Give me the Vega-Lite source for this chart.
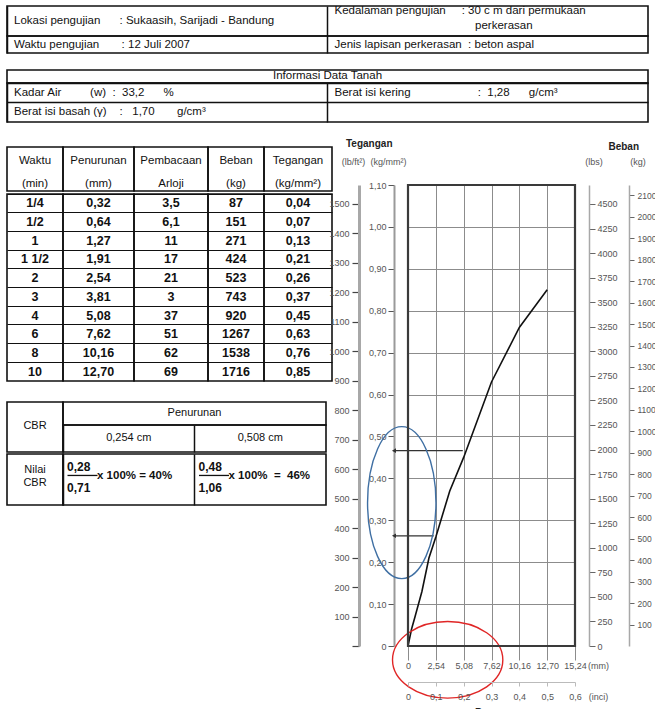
{
  "$schema": "https://vega.github.io/schema/vega-lite/v6.json",
  "padding": {"left": 6, "top": 3, "right": 0, "bottom": 0},
  "bounds": "flush",
  "spacing": 141,
  "config": {
    "view": {"stroke": "#111", "strokeWidth": 1.6},
    "font": "Liberation Sans, Arial, sans-serif",
    "text": {"font": "Liberation Sans, Arial, sans-serif", "fontSize": 11.5, "color": "#111"},
    "axis": {"labelFont": "Liberation Sans, Arial, sans-serif", "titleFont": "Liberation Sans, Arial, sans-serif", "labelFlush": false, "labelOverlap": false},
    "locale": {"number": {"decimal": ",", "thousands": ".", "grouping": [3], "currency": ["", ""]}},
    "concat": {"spacing": 0}
  },
  "datasets": {
    "uji": [
      {"waktu": "1/4", "penurunan": 0.32, "arloji": 3.5, "beban": 87, "tegangan": 0.04},
      {"waktu": "1/2", "penurunan": 0.64, "arloji": 6.1, "beban": 151, "tegangan": 0.07},
      {"waktu": "1", "penurunan": 1.27, "arloji": 11, "beban": 271, "tegangan": 0.13},
      {"waktu": "1 1/2", "penurunan": 1.91, "arloji": 17, "beban": 424, "tegangan": 0.21},
      {"waktu": "2", "penurunan": 2.54, "arloji": 21, "beban": 523, "tegangan": 0.26},
      {"waktu": "3", "penurunan": 3.81, "arloji": 3, "beban": 743, "tegangan": 0.37},
      {"waktu": "4", "penurunan": 5.08, "arloji": 37, "beban": 920, "tegangan": 0.45},
      {"waktu": "6", "penurunan": 7.62, "arloji": 51, "beban": 1267, "tegangan": 0.63},
      {"waktu": "8", "penurunan": 10.16, "arloji": 62, "beban": 1538, "tegangan": 0.76},
      {"waktu": "10", "penurunan": 12.70, "arloji": 69, "beban": 1716, "tegangan": 0.85}
    ],
    "kurva": [
      {"penurunan": 0, "tegangan": 0},
      {"penurunan": 0.32, "tegangan": 0.04},
      {"penurunan": 0.64, "tegangan": 0.07},
      {"penurunan": 1.27, "tegangan": 0.13},
      {"penurunan": 1.91, "tegangan": 0.21},
      {"penurunan": 2.54, "tegangan": 0.26},
      {"penurunan": 3.81, "tegangan": 0.37},
      {"penurunan": 5.08, "tegangan": 0.45},
      {"penurunan": 7.62, "tegangan": 0.63},
      {"penurunan": 10.16, "tegangan": 0.76},
      {"penurunan": 12.70, "tegangan": 0.85}
    ],
    "panah": [
      {"tegangan": 0.466, "dari": 5.0, "ke": -1.28},
      {"tegangan": 0.263, "dari": 2.35, "ke": -1.28}
    ],
    "sorotan": [
      {"warna": "biru", "penurunan": -0.57, "tegangan": 0.342},
      {"warna": "merah", "penurunan": 3.62, "tegangan": -0.033}
    ]
  },
  "vconcat": [
    {"bounds": "flush", "spacing": 64, "vconcat": [
      {"bounds": "flush", "spacing": 0, "vconcat": [
        {"width": 641, "height": 30,
         "data": {"values": [
           {"kol": "L", "baris": "a", "teks": "Lokasi pengujian\u00a0\u00a0\u00a0\u00a0\u00a0\u00a0: Sukaasih, Sarijadi - Bandung"},
           {"kol": "R", "baris": "a", "teks": "Kedalaman pengujian\u00a0\u00a0\u00a0\u00a0\u00a0: 30 c m dari permukaan"},
           {"kol": "R", "baris": "b", "teks": "\u200b\u00a0\u00a0\u00a0\u00a0\u00a0\u00a0\u00a0\u00a0\u00a0\u00a0\u00a0\u00a0\u00a0\u00a0\u00a0\u00a0\u00a0\u00a0\u00a0\u00a0\u00a0\u00a0\u00a0\u00a0\u00a0\u00a0\u00a0\u00a0\u00a0\u00a0\u00a0\u00a0\u00a0\u00a0\u00a0\u00a0\u00a0\u00a0\u00a0\u00a0\u00a0\u00a0\u00a0\u00a0perkerasan"}
         ]},
         "layer": [
           {"transform": [{"filter": "datum.kol == 'L'"}],
            "mark": {"type": "text", "align": "left", "dx": 7},
            "encoding": {
              "x": {"field": "kol", "type": "nominal", "bandPosition": 0,
                    "scale": {"type": "band", "domain": ["L", "R"], "paddingInner": 0, "paddingOuter": 0},
                    "axis": {"grid": true, "gridColor": "#111", "gridWidth": 1.5, "labels": false, "ticks": false, "domain": false, "title": null, "bandPosition": 0}},
              "text": {"field": "teks"}}},
           {"transform": [{"filter": "datum.kol == 'R'"}],
            "mark": {"type": "text", "align": "left", "dx": 7, "dy": -3},
            "encoding": {
              "x": {"field": "kol", "type": "nominal", "bandPosition": 0},
              "y": {"field": "baris", "type": "nominal", "scale": {"type": "band", "domain": ["a", "b"], "paddingInner": 0, "paddingOuter": 0}, "axis": null},
              "text": {"field": "teks"}}}
         ]},
        {"width": 641, "height": 17,
         "data": {"values": [
           {"kol": "L", "teks": "Waktu pengujian\u00a0\u00a0\u00a0\u00a0\u00a0\u00a0\u00a0: 12 Juli 2007"},
           {"kol": "R", "teks": "Jenis lapisan perkerasan\u00a0\u00a0: beton aspal"}
         ]},
         "mark": {"type": "text", "align": "left", "dx": 7},
         "encoding": {
           "x": {"field": "kol", "type": "nominal", "bandPosition": 0,
                 "scale": {"type": "band", "domain": ["L", "R"], "paddingInner": 0, "paddingOuter": 0},
                 "axis": {"grid": true, "gridColor": "#111", "gridWidth": 1.5, "labels": false, "ticks": false, "domain": false, "title": null, "bandPosition": 0}},
           "text": {"field": "teks"}}}
      ]},
      {"bounds": "flush", "spacing": 0, "vconcat": [
        {"width": 641, "height": 13,
         "data": {"values": [{"teks": "Informasi Data Tanah"}]},
         "mark": {"type": "text", "dy": -1},
         "encoding": {
           "x": {"field": "teks", "type": "nominal", "scale": {"type": "band", "paddingInner": 0, "paddingOuter": 0}, "axis": null},
           "text": {"field": "teks"}}},
        {"width": 641, "height": 39,
         "data": {"values": [
           {"kol": "L", "baris": "1", "teks": "Kadar Air\u00a0\u00a0\u00a0\u00a0\u00a0\u00a0\u00a0\u00a0\u00a0(w)\u00a0\u00a0:\u00a0\u00a033,2\u00a0\u00a0\u00a0\u00a0\u00a0\u00a0%"},
           {"kol": "R", "baris": "1", "teks": "Berat isi kering\u00a0\u00a0\u00a0\u00a0\u00a0\u00a0\u00a0\u00a0\u00a0\u00a0\u00a0\u00a0\u00a0\u00a0\u00a0\u00a0\u00a0\u00a0\u00a0\u00a0\u00a0:\u00a0\u00a01,28\u00a0\u00a0\u00a0\u00a0\u00a0\u00a0g/cm³"},
           {"kol": "L", "baris": "2", "teks": "Berat isi basah\u00a0(γ)\u00a0\u00a0\u00a0\u00a0:\u00a0\u00a0\u00a01,70\u00a0\u00a0\u00a0\u00a0\u00a0\u00a0\u00a0g/cm³"}
         ]},
         "mark": {"type": "text", "align": "left", "dx": 7},
         "encoding": {
           "x": {"field": "kol", "type": "nominal", "bandPosition": 0,
                 "scale": {"type": "band", "domain": ["L", "R"], "paddingInner": 0, "paddingOuter": 0},
                 "axis": {"grid": true, "gridColor": "#111", "gridWidth": 1.5, "labels": false, "ticks": false, "domain": false, "title": null, "bandPosition": 0}},
           "y": {"field": "baris", "type": "nominal",
                 "scale": {"type": "band", "domain": ["1", "2"], "paddingInner": 0, "paddingOuter": 0},
                 "axis": {"grid": true, "gridColor": "#111", "gridWidth": 1.5, "labels": false, "ticks": false, "domain": false, "title": null, "bandPosition": 0}},
           "text": {"field": "teks"}}}
      ]}
    ]},
    {"bounds": "flush", "spacing": 352, "hconcat": [
      {"bounds": "flush", "spacing": 255, "vconcat": [
        {"bounds": "flush", "spacing": 47, "vconcat": [
          {"bounds": "flush", "spacing": 0, "hconcat": [
            {"width": 56, "height": 44, "data": {"values": [{"kol": "Waktu", "judul": ["Waktu", "(min)"]}]},
             "mark": {"type": "text", "lineHeight": 23, "dy": -8.5},
             "encoding": {"x": {"field": "kol", "type": "nominal", "scale": {"type": "band", "paddingInner": 0, "paddingOuter": 0}, "axis": null}, "text": {"field": "judul"}}},
            {"width": 71, "height": 44, "data": {"values": [{"kol": "Penurunan", "judul": ["Penurunan", "(mm)"]}]},
             "mark": {"type": "text", "lineHeight": 23, "dy": -8.5},
             "encoding": {"x": {"field": "kol", "type": "nominal", "scale": {"type": "band", "paddingInner": 0, "paddingOuter": 0}, "axis": null}, "text": {"field": "judul"}}},
            {"width": 74, "height": 44, "data": {"values": [{"kol": "Pembacaan", "judul": ["Pembacaan", "Arloji"]}]},
             "mark": {"type": "text", "lineHeight": 23, "dy": -8.5},
             "encoding": {"x": {"field": "kol", "type": "nominal", "scale": {"type": "band", "paddingInner": 0, "paddingOuter": 0}, "axis": null}, "text": {"field": "judul"}}},
            {"width": 56, "height": 44, "data": {"values": [{"kol": "Beban", "judul": ["Beban", "(kg)"]}]},
             "mark": {"type": "text", "lineHeight": 23, "dy": -8.5},
             "encoding": {"x": {"field": "kol", "type": "nominal", "scale": {"type": "band", "paddingInner": 0, "paddingOuter": 0}, "axis": null}, "text": {"field": "judul"}}},
            {"width": 68, "height": 44, "data": {"values": [{"kol": "Tegangan", "judul": ["Tegangan", "(kg/mm²)"]}]},
             "mark": {"type": "text", "lineHeight": 23, "dy": -8.5},
             "encoding": {"x": {"field": "kol", "type": "nominal", "scale": {"type": "band", "paddingInner": 0, "paddingOuter": 0}, "axis": null}, "text": {"field": "judul"}}}
          ]},
          {"bounds": "flush", "spacing": 0, "hconcat": [
            {"width": 56, "height": 187, "data": {"name": "uji"},
             "mark": {"type": "text", "fontWeight": "bold", "fontSize": 12.5},
             "encoding": {
               "y": {"field": "waktu", "type": "nominal", "sort": null, "scale": {"type": "band", "paddingInner": 0, "paddingOuter": 0},
                     "axis": {"grid": true, "gridColor": "#111", "gridWidth": 1.2, "labels": false, "ticks": false, "domain": false, "title": null, "bandPosition": 0}},
               "text": {"field": "waktu"}}},
            {"width": 71, "height": 187, "data": {"name": "uji"},
             "mark": {"type": "text", "fontWeight": "bold", "fontSize": 12.5},
             "encoding": {
               "y": {"field": "waktu", "type": "nominal", "sort": null, "scale": {"type": "band", "paddingInner": 0, "paddingOuter": 0},
                     "axis": {"grid": true, "gridColor": "#111", "gridWidth": 1.2, "labels": false, "ticks": false, "domain": false, "title": null, "bandPosition": 0}},
               "text": {"field": "penurunan", "type": "quantitative", "format": ".2f"}}},
            {"width": 74, "height": 187, "data": {"name": "uji"},
             "mark": {"type": "text", "fontWeight": "bold", "fontSize": 12.5},
             "encoding": {
               "y": {"field": "waktu", "type": "nominal", "sort": null, "scale": {"type": "band", "paddingInner": 0, "paddingOuter": 0},
                     "axis": {"grid": true, "gridColor": "#111", "gridWidth": 1.2, "labels": false, "ticks": false, "domain": false, "title": null, "bandPosition": 0}},
               "text": {"field": "arloji", "type": "quantitative", "format": "~f"}}},
            {"width": 56, "height": 187, "data": {"name": "uji"},
             "mark": {"type": "text", "fontWeight": "bold", "fontSize": 12.5},
             "encoding": {
               "y": {"field": "waktu", "type": "nominal", "sort": null, "scale": {"type": "band", "paddingInner": 0, "paddingOuter": 0},
                     "axis": {"grid": true, "gridColor": "#111", "gridWidth": 1.2, "labels": false, "ticks": false, "domain": false, "title": null, "bandPosition": 0}},
               "text": {"field": "beban", "type": "quantitative", "format": "d"}}},
            {"width": 68, "height": 187, "data": {"name": "uji"},
             "mark": {"type": "text", "fontWeight": "bold", "fontSize": 12.5},
             "encoding": {
               "y": {"field": "waktu", "type": "nominal", "sort": null, "scale": {"type": "band", "paddingInner": 0, "paddingOuter": 0},
                     "axis": {"grid": true, "gridColor": "#111", "gridWidth": 1.2, "labels": false, "ticks": false, "domain": false, "title": null, "bandPosition": 0}},
               "text": {"field": "tegangan", "type": "quantitative", "format": ".2f"}}}
          ]}
        ]},
        {"bounds": "flush", "spacing": 52, "vconcat": [
          {"bounds": "flush", "spacing": 0, "hconcat": [
            {"width": 56, "height": 50, "data": {"values": [{"teks": "CBR"}]},
             "mark": {"type": "text", "fontSize": 11, "dy": -1},
             "encoding": {"x": {"field": "teks", "type": "nominal", "scale": {"type": "band", "paddingInner": 0, "paddingOuter": 0}, "axis": null}, "text": {"field": "teks"}}},
            {"bounds": "flush", "spacing": 0, "vconcat": [
              {"width": 263, "height": 23, "data": {"values": [{"teks": "Penurunan"}]},
               "mark": {"type": "text", "fontSize": 11, "dy": -1},
               "encoding": {"x": {"field": "teks", "type": "nominal", "scale": {"type": "band", "paddingInner": 0, "paddingOuter": 0}, "axis": null}, "text": {"field": "teks"}}},
              {"width": 263, "height": 27,
               "data": {"values": [{"kol": "L", "teks": "0,254 cm"}, {"kol": "R", "teks": "0,508 cm"}]},
               "mark": {"type": "text", "fontSize": 11, "dy": -1},
               "encoding": {
                 "x": {"field": "kol", "type": "nominal", "scale": {"type": "band", "domain": ["L", "R"], "paddingInner": 0, "paddingOuter": 0},
                       "axis": {"grid": true, "gridColor": "#111", "gridWidth": 1.5, "labels": false, "ticks": false, "domain": false, "title": null, "bandPosition": 0}},
                 "text": {"field": "teks"}}}
            ]}
          ]},
          {"bounds": "flush", "spacing": 0, "hconcat": [
            {"width": 56, "height": 51, "data": {"values": [{"teks": ["Nilai", "CBR"]}]},
             "mark": {"type": "text", "fontSize": 11, "lineHeight": 13, "dy": -9.5},
             "encoding": {"x": {"field": "teks", "type": "nominal", "scale": {"type": "band", "paddingInner": 0, "paddingOuter": 0}, "axis": null}, "text": {"field": "teks"}}},
            {"width": 263, "height": 51,
             "data": {"values": [
               {"kol": "L", "atas": "0,28", "bawah": "0,71", "hasil": "x 100% = 40%"},
               {"kol": "R", "atas": "0,48", "bawah": "1,06", "hasil": "x 100%\u00a0\u00a0=\u00a0\u00a046%"}
             ]},
             "layer": [
               {"mark": {"type": "text", "align": "left", "dx": 4, "fontWeight": "bold", "fontSize": 12},
                "encoding": {
                  "x": {"field": "kol", "type": "nominal", "bandPosition": 0,
                        "scale": {"type": "band", "domain": ["L", "R"], "paddingInner": 0, "paddingOuter": 0},
                        "axis": {"grid": true, "gridColor": "#111", "gridWidth": 1.5, "labels": false, "ticks": false, "domain": false, "title": null, "bandPosition": 0}},
                  "y": {"datum": "atas", "type": "nominal", "scale": {"type": "band", "domain": ["atas", "bawah"], "paddingInner": 0, "paddingOuter": 0}, "axis": null},
                  "text": {"field": "atas"}}},
               {"mark": {"type": "text", "align": "left", "dx": 4, "dy": -4, "fontWeight": "bold", "fontSize": 12},
                "encoding": {
                  "x": {"field": "kol", "type": "nominal", "bandPosition": 0},
                  "y": {"datum": "bawah", "type": "nominal"},
                  "text": {"field": "bawah"}}},
               {"mark": {"type": "point", "shape": "M0.3,-0.27L2.3,-0.27", "size": 900, "filled": false, "color": "#111", "strokeWidth": 1.3, "opacity": 1},
                "encoding": {
                  "x": {"field": "kol", "type": "nominal", "bandPosition": 0},
                  "y": {"datum": "bawah", "type": "nominal", "bandPosition": 0}}},
               {"mark": {"type": "text", "align": "left", "dx": 34, "dy": -4, "fontWeight": "bold", "fontSize": 11.5},
                "encoding": {
                  "x": {"field": "kol", "type": "nominal", "bandPosition": 0},
                  "y": {"datum": "bawah", "type": "nominal", "bandPosition": 0},
                  "text": {"field": "hasil"}}}
             ]}
          ]}
        ]}
      ]},
      {"bounds": "flush", "spacing": 0, "vconcat": [
        {"width": 266, "height": 38, "view": {"stroke": null},
         "data": {"values": [{"sisi": "kiri", "teks": "Tegangan"}, {"sisi": "kanan", "teks": "Beban"}]},
         "layer": [
           {"transform": [{"filter": "datum.sisi == 'kiri'"}],
            "mark": {"type": "text", "align": "left", "dx": -13, "dy": -22, "fontWeight": "bold", "fontSize": 10, "color": "#222"},
            "encoding": {
              "x": {"field": "sisi", "type": "nominal", "bandPosition": 0,
                    "scale": {"type": "band", "domain": ["kiri", "kanan"], "paddingInner": 0, "paddingOuter": 0}, "axis": null},
              "text": {"field": "teks"}}},
           {"transform": [{"filter": "datum.sisi == 'kanan'"}],
            "mark": {"type": "text", "align": "right", "dx": 14, "dy": -19, "fontWeight": "bold", "fontSize": 10, "color": "#222"},
            "encoding": {
              "x": {"field": "sisi", "type": "nominal", "bandPosition": 1},
              "text": {"field": "teks"}}}
         ]},
        {"bounds": "flush", "spacing": 0, "hconcat": [
          {"width": 49, "height": 461, "view": {"stroke": null},
           "data": {"values": [{"nilai": 0}]},
           "mark": {"type": "point", "opacity": 0},
           "encoding": {"y": {"field": "nilai", "type": "quantitative", "scale": {"domain": [0, 1563], "nice": false},
             "axis": {"orient": "left", "values": [0, 100, 200, 300, 400, 500, 600, 700, 800, 900, 1000, 1100, 1200, 1300, 1400, 1500], "tickCount": 100,
                      "format": "d", "labelExpr": "datum.value == 0 ? '' : datum.label", "grid": false,
                      "domainColor": "#a8a8a8", "domainWidth": 3, "tickColor": "#444", "tickSize": 7, "tickWidth": 1.2,
                      "labelPadding": 3, "labelFontSize": 9, "labelColor": "#555",
                      "title": "(lb/ft²)", "titleAngle": 0, "titleX": -6, "titleY": -24, "titleAlign": "center",
                      "titleBaseline": "middle", "titleFontSize": 9, "titleFontWeight": "normal", "titleColor": "#555"}}}},
          {"bounds": "flush", "spacing": 0, "vconcat": [
            {"width": 167, "height": 461, "view": {"stroke": null},
             "layer": [
               {"data": {"name": "kurva"},
                "mark": {"type": "line", "color": "#111", "strokeWidth": 1.6},
                "encoding": {
                  "x": {"field": "penurunan", "type": "quantitative", "scale": {"domain": [0, 15.24], "nice": false},
                        "axis": {"orient": "bottom", "values": [0, 2.54, 5.08, 7.62, 10.16, 12.7, 15.24], "tickCount": 100, "format": ".2f",
                                 "labelExpr": "datum.value == 0 ? '0' : datum.label",
                                 "grid": true, "gridColor": "#8c8c8c", "gridWidth": 1, "domain": false,
                                 "tickColor": "#8c8c8c", "tickSize": 14, "tickWidth": 1, "labelPadding": 1,
                                 "labelFontSize": 9, "labelColor": "#555",
                                 "title": "(mm)", "titleFontSize": 9, "titleFontWeight": "normal", "titleColor": "#555",
                                 "titleX": 190, "titleY": 19, "titleAlign": "center", "titleBaseline": "middle"}},
                  "y": {"field": "tegangan", "type": "quantitative", "scale": {"domain": [0, 1.1], "nice": false},
                        "axis": {"orient": "left", "offset": 14, "values": [0, 0.1, 0.2, 0.3, 0.4, 0.5, 0.6, 0.7, 0.8, 0.9, 1, 1.1], "tickCount": 100,
                                 "format": ".2f", "labelExpr": "datum.value == 0 ? '0' : datum.label",
                                 "grid": true, "gridColor": "#8c8c8c", "gridWidth": 1,
                                 "domainColor": "#9a9a9a", "domainWidth": 2, "tickColor": "#555", "tickSize": 6,
                                 "labelPadding": 2, "labelFontSize": 9, "labelColor": "#555",
                                 "title": "(kg/mm²)", "titleAngle": 0, "titleX": -6, "titleY": -24, "titleAlign": "center",
                                 "titleBaseline": "middle", "titleFontSize": 9, "titleFontWeight": "normal", "titleColor": "#555"}}}},
               {"data": {"name": "panah"},
                "mark": {"type": "rule", "color": "#333", "strokeWidth": 1.3},
                "encoding": {
                  "x": {"field": "dari", "type": "quantitative"},
                  "x2": {"field": "ke"},
                  "y": {"field": "tegangan", "type": "quantitative"}}},
               {"data": {"name": "panah"},
                "mark": {"type": "point", "shape": "triangle-left", "filled": true, "color": "#333", "size": 22, "opacity": 1},
                "encoding": {
                  "x": {"field": "ke", "type": "quantitative"},
                  "y": {"field": "tegangan", "type": "quantitative"}}},
               {"data": {"name": "sorotan"},
                "transform": [{"filter": "datum.warna == 'biru'"}],
                "mark": {"type": "point", "shape": "M-0.45,0A0.45,1,0,1,0,0.45,0A0.45,1,0,1,0,-0.45,0Z", "size": 23104, "filled": false, "color": "#3f6fa3", "strokeWidth": 1.4, "opacity": 1},
                "encoding": {
                  "x": {"field": "penurunan", "type": "quantitative"},
                  "y": {"field": "tegangan", "type": "quantitative"}}},
               {"data": {"name": "sorotan"},
                "transform": [{"filter": "datum.warna == 'merah'"}],
                "mark": {"type": "point", "shape": "M-1.44,0A1.44,1,0,1,0,1.44,0A1.44,1,0,1,0,-1.44,0Z", "size": 5868, "filled": false, "color": "#e02626", "strokeWidth": 1.4, "opacity": 1},
                "encoding": {
                  "x": {"field": "penurunan", "type": "quantitative"},
                  "y": {"field": "tegangan", "type": "quantitative"}}},
               {"data": {"values": [{"nilai": 0}]},
                "mark": {"type": "rect", "fill": "transparent", "stroke": "#3a3a3a", "strokeWidth": 2.2},
                "encoding": {
                  "x": {"datum": 0, "type": "quantitative"},
                  "x2": {"datum": 15.24},
                  "y": {"datum": 0, "type": "quantitative"},
                  "y2": {"datum": 1.1}}}
             ]},
            {"width": 167, "height": 36, "view": {"stroke": null},
             "data": {"values": [{"nilai": 0}]},
             "mark": {"type": "point", "opacity": 0},
             "encoding": {"x": {"field": "nilai", "type": "quantitative", "scale": {"domain": [0, 0.6], "nice": false},
               "axis": {"orient": "bottom", "values": [0, 0.1, 0.2, 0.3, 0.4, 0.5, 0.6], "tickCount": 100,
                        "format": ".1f", "labelExpr": "datum.value == 0 ? '0' : datum.label", "grid": false,
                        "domainColor": "#bbbbbb", "domainWidth": 1, "tickColor": "#bbbbbb", "tickSize": 4,
                        "labelPadding": 6, "labelFontSize": 9, "labelColor": "#555",
                        "title": "(inci)", "titleX": 190, "titleY": 14, "titleAlign": "center",
                        "titleBaseline": "middle", "titleFontSize": 9, "titleFontWeight": "normal", "titleColor": "#555"}}}},
            {"width": 167, "height": 40, "view": {"stroke": null},
             "data": {"values": [{"teks": "Penurunan"}]},
             "mark": {"type": "text", "dx": 11, "dy": 11, "fontWeight": "bold", "fontSize": 10.5, "color": "#222"},
             "encoding": {"text": {"field": "teks"}}}
          ]},
          {"width": 181, "height": 461, "view": {"stroke": null},
           "data": {"values": [{"nilai": 0}]},
           "mark": {"type": "point", "opacity": 0},
           "encoding": {"y": {"field": "nilai", "type": "quantitative", "scale": {"domain": [0, 4693], "nice": false},
             "axis": {"orient": "right", "values": [0, 250, 500, 750, 1000, 1250, 1500, 1750, 2000, 2250, 2500, 2750, 3000, 3250, 3500, 3750, 4000, 4250, 4500], "tickCount": 100,
                      "format": "d", "grid": false,
                      "domainColor": "#a8a8a8", "domainWidth": 1.5, "tickColor": "#666", "tickSize": 6,
                      "labelPadding": 2, "labelFontSize": 9, "labelColor": "#555",
                      "title": "(lbs)", "titleAngle": 0, "titleX": 4.5, "titleY": -24, "titleAlign": "center",
                      "titleBaseline": "middle", "titleFontSize": 9, "titleFontWeight": "normal", "titleColor": "#555"}}}},
          {"width": 40, "height": 461, "view": {"stroke": null},
           "data": {"values": [{"nilai": 0}]},
           "mark": {"type": "point", "opacity": 0},
           "encoding": {"y": {"field": "nilai", "type": "quantitative", "scale": {"domain": [0, 2148], "nice": false},
             "axis": {"orient": "right", "values": [100, 200, 300, 400, 500, 600, 700, 800, 900, 1000, 1100, 1200, 1300, 1400, 1500, 1600, 1700, 1800, 1900, 2000, 2100], "tickCount": 100,
                      "format": "d", "grid": false,
                      "domainColor": "#a8a8a8", "domainWidth": 1.5, "tickColor": "#666", "tickSize": 5,
                      "labelPadding": 3, "labelFontSize": 8.5, "labelColor": "#555",
                      "title": "(kg)", "titleAngle": 0, "titleX": 8.5, "titleY": -24, "titleAlign": "center",
                      "titleBaseline": "middle", "titleFontSize": 9, "titleFontWeight": "normal", "titleColor": "#555"}}}}
        ]}
      ]}
    ]}
  ]
}
